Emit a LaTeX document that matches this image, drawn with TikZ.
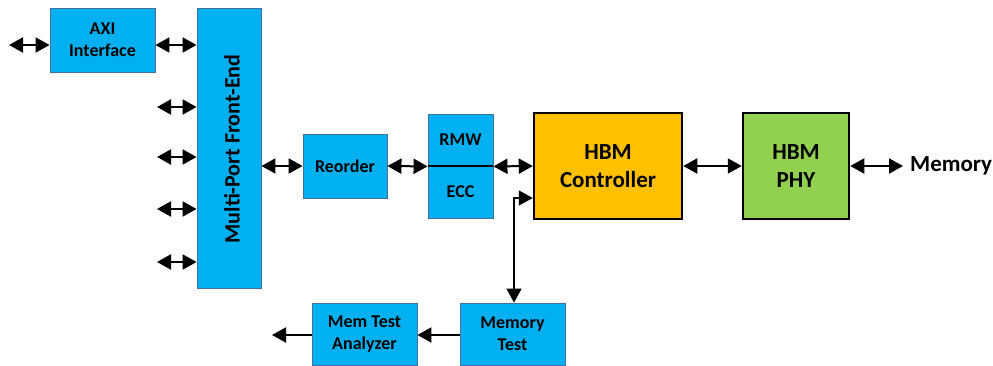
\documentclass[tikz,border=0pt]{standalone}
\usepackage{fontspec}
\setmainfont{Carlito}
\usetikzlibrary{arrows.meta}
\definecolor{boxblue}{HTML}{00B0F0}
\definecolor{boxedge}{HTML}{41719C}
\definecolor{ctrlorange}{HTML}{FFC000}
\definecolor{phygreen}{HTML}{92D050}
\tikzset{
  bluebox/.style={draw=boxedge, line width=0.9pt, fill=boxblue, inner sep=0pt, align=center, font=\fontsize{18}{22}\selectfont\bfseries},
  bigbox/.style={draw=black, line width=2.5pt, inner sep=0pt, align=center, font=\fontsize{23}{28}\selectfont\bfseries},
  tip/.tip={Triangle[length=14pt,width=15pt]},
  dbl/.style={tip-tip, line width=2pt},
  sgl/.style={-tip, line width=2pt},
}
\begin{document}
\begin{tikzpicture}[x=1pt,y=-1pt]
\useasboundingbox (0,0) rectangle (993,366);
% boxes
\node[bluebox, minimum width=105pt, minimum height=64pt] (axi) at (102.5,40) {AXI\\Interface};
\node[bluebox, minimum width=64pt, minimum height=280pt] (mpfe) at (229,148) {};
\node[rotate=90, font=\fontsize{22}{26}\selectfont\bfseries] (mpfetext) at (232,149) {Multi-Port Front-End};
\node[bluebox, minimum width=84pt, minimum height=64pt] (reorder) at (345,166) {Reorder};
\node[bluebox, minimum width=65pt, minimum height=52pt] (rmw) at (460.5,140) {RMW};
\node[bluebox, minimum width=65pt, minimum height=52pt] (ecc) at (460.5,192) {ECC};
\node[bigbox, fill=ctrlorange, minimum width=148pt, minimum height=106pt] (ctrl) at (608,166) {HBM\\Controller};
\node[bigbox, fill=phygreen, minimum width=106pt, minimum height=106pt] (phy) at (796,166) {HBM\\PHY};
\node[anchor=west, inner sep=0pt, font=\fontsize{23}{26}\selectfont\bfseries] (mem) at (910,166) {Memory};
\node[bluebox, minimum width=105pt, minimum height=62pt] (memtest) at (512.5,334) {Memory\\Test};
\node[bluebox, minimum width=105pt, minimum height=62pt] (analyzer) at (364.5,334) {Mem Test\\Analyzer};
% divider
\draw[line width=2pt] (rmw.south west) -- (rmw.south east);
% free ends
\coordinate (axiin) at (9,45);
\coordinate (p1) at (157,107);
\coordinate (p2) at (157,157);
\coordinate (p3) at (157,209);
\coordinate (p4) at (157,262);
\coordinate (bend) at (514,198);
\coordinate (out) at (272,335);
\coordinate (memend) at (903,166);
% connectors
\draw[dbl] (axiin) -- (axiin -| axi.west);
\draw[dbl] (axi.east |- axiin) -- (axiin -| mpfe.west);
\draw[dbl] (p1) -- (p1 -| mpfe.west);
\draw[dbl] (p2) -- (p2 -| mpfe.west);
\draw[dbl] (p3) -- (p3 -| mpfe.west);
\draw[dbl] (p4) -- (p4 -| mpfe.west);
\draw[dbl] (mpfe.east |- reorder.west) -- (reorder.west);
\draw[dbl] (reorder.east) -- (rmw.south west);
\draw[dbl] (rmw.south east) -- (ctrl.west);
\draw[dbl] (ctrl.east) -- (phy.west);
\draw[dbl] (phy.east) -- (memend);
\draw[line width=1.6pt, tip-tip] (bend -| ctrl.west) -- (bend) -- (bend |- memtest.north);
\draw[sgl] (memtest.west |- out) -- (analyzer.east |- out);
\draw[sgl] (analyzer.west |- out) -- (out);
\end{tikzpicture}
\end{document}
